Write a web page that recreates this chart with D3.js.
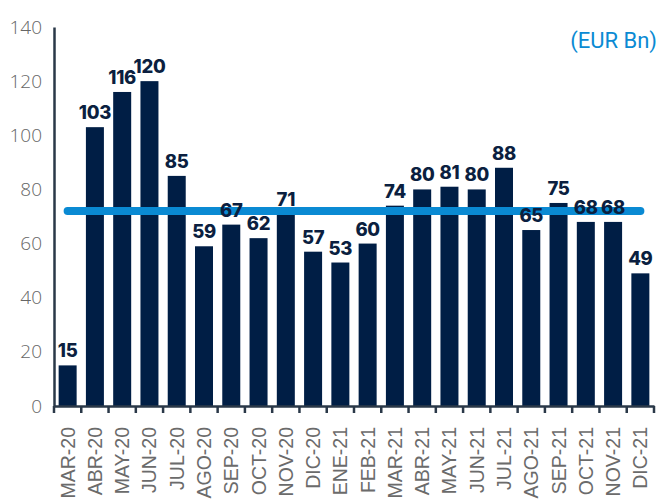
<!DOCTYPE html>
<html>
<head>
<meta charset="utf-8">
<script src="https://cdn.jsdelivr.net/npm/d3@7"></script>
<style>
  body { margin: 0; background: #fff; }
  svg { display: block; }
</style>
</head>
<body>
<div id="chart"></div>
<script>
var months = ["MAR-20", "ABR-20", "MAY-20", "JUN-20", "JUL-20", "AGO-20", "SEP-20", "OCT-20",
              "NOV-20", "DIC-20", "ENE-21", "FEB-21", "MAR-21", "ABR-21", "MAY-21", "JUN-21",
              "JUL-21", "AGO-21", "SEP-21", "OCT-21", "NOV-21", "DIC-21"];
var values = [15, 103, 116, 120, 85, 59, 67, 62, 71, 57, 53, 60, 74, 80, 81, 80, 88, 65, 75, 68, 68, 49];
var average = 72;
var yTicks = [0, 20, 40, 60, 80, 100, 120, 140];

var margin = {top: 27, right: 5, bottom: 93, left: 54},
    width = 659 - margin.left - margin.right,
    height = 499 - margin.top - margin.bottom;

var svg = d3.select("#chart")
    .append("svg")
    .attr("width", 659)
    .attr("height", 499);

var g = svg.append("g")
    .attr("transform", "translate(" + margin.left + "," + margin.top + ")");

var x = d3.scaleBand()
    .domain(months)
    .range([0, width])
    .paddingInner(0.34)
    .paddingOuter(0.17);

var y = d3.scaleLinear()
    .domain([0, 140])
    .range([height, 0]);

// bars
g.selectAll("rect.bar")
    .data(values)
    .enter().append("rect")
    .attr("class", "bar")
    .attr("x", function(d, i) { return x(months[i]); })
    .attr("y", function(d) { return y(d); })
    .attr("width", x.bandwidth())
    .attr("height", function(d) { return height - y(d); })
    .attr("fill", "#001e45");

// average line
g.append("line")
    .attr("x1", x(months[0]) + x.bandwidth() / 2)
    .attr("x2", x(months[months.length - 1]) + x.bandwidth() / 2)
    .attr("y1", y(average))
    .attr("y2", y(average))
    .attr("stroke", "#0a8ad3")
    .attr("stroke-width", 8)
    .attr("stroke-linecap", "round");

// value labels
g.selectAll("text.val")
    .data(values)
    .enter().append("text")
    .attr("class", "val")
    .attr("x", function(d, i) { return x(months[i]) + x.bandwidth() / 2; })
    .attr("y", function(d) { return y(d) - 8; })
    .attr("text-anchor", "middle")
    .style("font-family", "Inter, Lato, sans-serif")
    .style("font-weight", "800")
    .style("font-size", "18.5px")
    .style("letter-spacing", "-0.3px")
    .style("fill", "#0b1f40")
    .text(function(d) { return d; });

// y axis
var yAxis = g.append("g")
    .call(d3.axisLeft(y).tickValues(yTicks).tickSize(0).tickPadding(12));
yAxis.select(".domain").attr("stroke", "#2a3848").attr("stroke-width", 2.5);
yAxis.selectAll("text")
    .style("font-family", "'Open Sans', sans-serif")
    .style("font-weight", "300")
    .style("font-size", "19px")
    .style("fill", "#666");

// x axis
var xAxis = g.append("g")
    .attr("transform", "translate(0," + height + ")")
    .call(d3.axisBottom(x).tickSize(0));
xAxis.select(".domain").attr("stroke", "#2a3848").attr("stroke-width", 2.5);
xAxis.selectAll(".tick line").remove();
xAxis.selectAll("line.sep")
    .data(d3.range(months.length + 1))
    .enter().append("line")
    .attr("class", "sep")
    .attr("x1", function(i) { return i * x.step(); })
    .attr("x2", function(i) { return i * x.step(); })
    .attr("y1", 0)
    .attr("y2", 7)
    .attr("stroke", "#2a3848")
    .attr("stroke-width", 2.5);
xAxis.selectAll(".tick text")
    .attr("transform", "rotate(-90)")
    .attr("x", -21)
    .attr("y", 0)
    .attr("dy", "0.36em")
    .attr("text-anchor", "end")
    .style("font-family", "'Liberation Sans', Arial, sans-serif")
    .style("font-size", "19.5px")
    .style("fill", "#6b6b6b");

// unit label
svg.append("text")
    .attr("x", 657)
    .attr("y", 48)
    .attr("text-anchor", "end")
    .style("font-family", "Roboto, 'Open Sans', sans-serif")
    .style("font-size", "22px")
    .style("fill", "#0a8ad3")
    .text("(EUR Bn)");
</script>
</body>
</html>
